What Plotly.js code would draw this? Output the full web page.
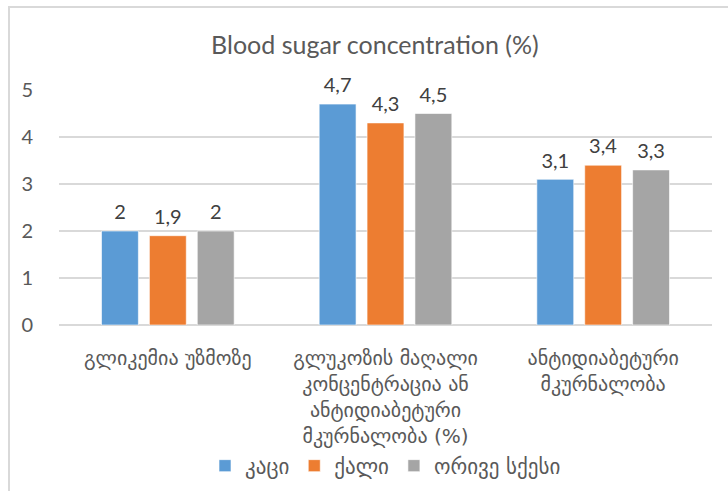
<!DOCTYPE html>
<html><head><meta charset="utf-8">
<script src="https://cdn.plot.ly/plotly-3.0.1.min.js"></script>
<style>
html,body{margin:0;padding:0;background:#fff;}
#frame{position:absolute;left:8px;top:6px;width:720px;height:485px;border-left:2px solid #d9d9d9;border-top:2px solid #d9d9d9;box-sizing:border-box;}
#chart{position:absolute;left:0;top:0;width:728px;height:491px;}
</style></head>
<body>
<div id="frame"></div>
<div id="chart"></div>
<script>
const categories = [
  "გლიკემია უზმოზე",
  "გლუკოზის მაღალი<br>კონცენტრაცია ან<br>ანტიდიაბეტური<br>მკურნალობა (%)",
  "ანტიდიაბეტური<br>მკურნალობა"
];
const seriesNames = ["კაცი", "ქალი", "ორივე სქესი"];
const men = [2, 4.7, 3.1];
const women = [1.9, 4.3, 3.4];
const both = [2, 4.5, 3.3];
const colors = ["#5B9BD5", "#ED7D31", "#A5A5A5"];
const yTicks = [0, 1, 2, 3, 4, 5];

const fontFam = "Lato, 'DejaVu Sans', sans-serif";
const geoFam = "'DejaVu Sans', sans-serif";
const fmt = v => "<span style='font-size:20px'>" + String(v).replace('.', ',') +
  "</span><br><span style='color:rgba(0,0,0,0)'>.</span>";
const data = [men, women, both].map((vals, i) => ({
  type: 'bar',
  name: seriesNames[i],
  x: categories,
  y: vals,
  text: vals.map(fmt),
  textposition: 'outside',
  cliponaxis: false,
  textfont: {size: 6, color: '#404040', family: fontFam},
  marker: {color: colors[i], line: {color: 'rgba(255,255,255,0.6)', width: 1}},
  hoverinfo: 'none'
}));

const layout = {
  width: 728, height: 491,
  paper_bgcolor: 'rgba(0,0,0,0)',
  plot_bgcolor: 'rgba(0,0,0,0)',
  margin: {l: 59, r: 16, t: 90, b: 166, autoexpand: false},
  title: {text: 'Blood sugar concentration (%)', x: 0.515, xanchor: 'center', y: 0.908, yanchor: 'middle',
          font: {size: 25, color: '#595959', family: fontFam}},
  barmode: 'group',
  bargap: 0.34,
  bargroupgap: 0.23,
  showlegend: true,
  legend: {orientation: 'h', x: 0.5, xanchor: 'center', y: -0.6, yanchor: 'middle',
           font: {size: 21, color: '#595959', family: geoFam}, itemwidth: 30, traceorder: 'normal'},
  xaxis: {tickfont: {size: 20, color: '#595959', family: geoFam}, showline: false, ticks: '',
          showgrid: false, zeroline: false, automargin: false, ticklabelstandoff: 19},
  yaxis: {range: [0, 5], tickvals: yTicks, ticktext: yTicks.map(String),
          tickfont: {size: 20, color: '#595959', family: fontFam},
          showgrid: true, gridcolor: '#d9d9d9', gridwidth: 1.5, zeroline: true, zerolinecolor: '#d9d9d9', zerolinewidth: 2,
          showline: false, ticks: '', ticklabelstandoff: 25, automargin: false}
};
Plotly.newPlot('chart', data, layout, {displayModeBar: false, staticPlot: true});
</script>
</body></html>
